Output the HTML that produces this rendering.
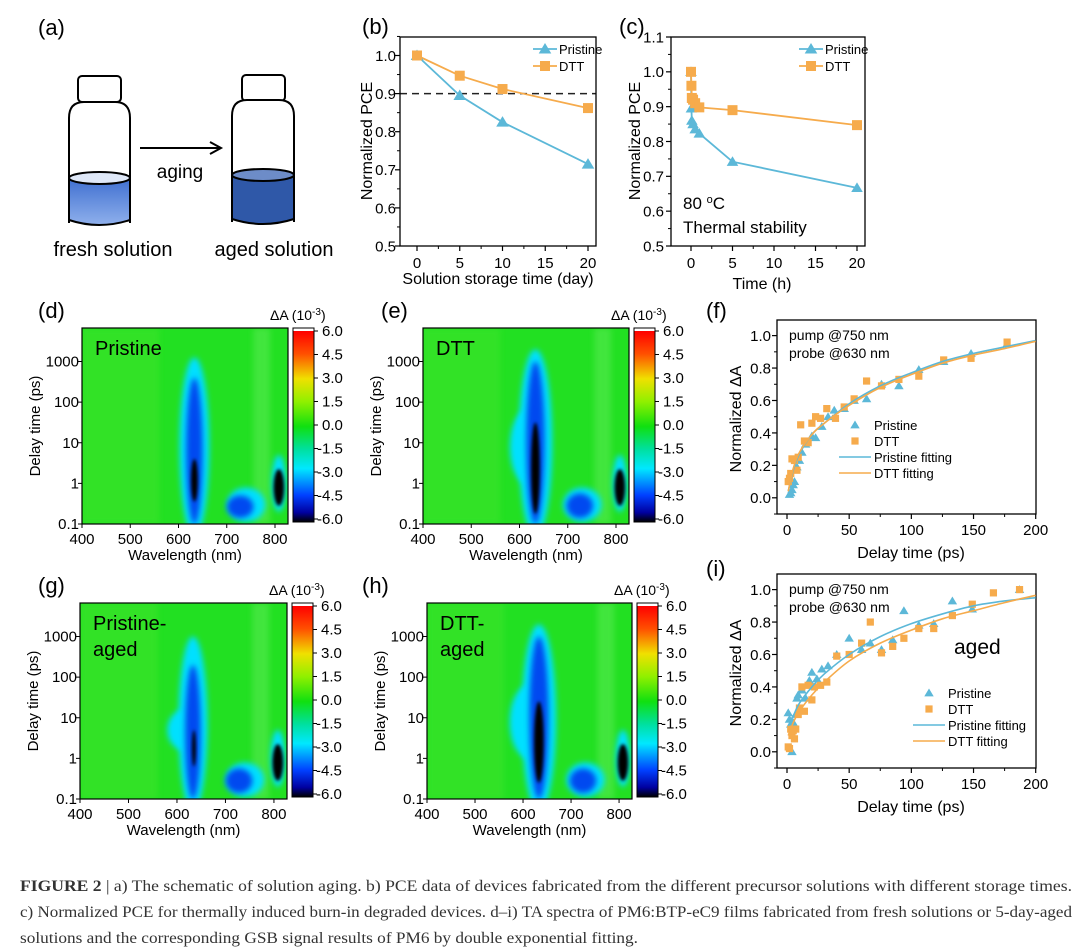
<!DOCTYPE html>
<html><head><meta charset="utf-8">
<style>
html,body{margin:0;padding:0;background:#fff;}
svg{display:block;font-family:"Liberation Sans",sans-serif;}
</style></head>
<body>
<svg id="fig" width="1080" height="947" viewBox="0 0 1080 947" xmlns="http://www.w3.org/2000/svg">
<defs>
<filter id="blur" x="-50%" y="-50%" width="200%" height="200%"><feGaussianBlur stdDeviation="3"/></filter>
<filter id="blur2" x="-50%" y="-50%" width="200%" height="200%"><feGaussianBlur stdDeviation="1.6"/></filter>
<linearGradient id="cbgrad" x1="0" y1="0" x2="0" y2="1">
<stop offset="0" stop-color="#ff0000"/><stop offset="0.12" stop-color="#ff5000"/><stop offset="0.25" stop-color="#f0e000"/><stop offset="0.37" stop-color="#90f000"/><stop offset="0.5" stop-color="#10e010"/><stop offset="0.62" stop-color="#00e0a0"/><stop offset="0.72" stop-color="#00e8ff"/><stop offset="0.86" stop-color="#0040ff"/><stop offset="0.95" stop-color="#0000a0"/><stop offset="1" stop-color="#000000"/>
</linearGradient>
<linearGradient id="liqFresh" x1="0" y1="0" x2="0" y2="1"><stop offset="0" stop-color="#3f6fd0"/><stop offset="1" stop-color="#8fb0ec"/></linearGradient>
</defs>

<g>
<text x="38" y="35" font-size="22">(a)</text>
<g stroke="#000" stroke-width="2">
<rect x="78" y="76" width="43" height="26" rx="4" fill="#fff"/>
<path d="M69 223 L69 118 Q69 102 84 102 L115 102 Q130 102 130 118 L130 223" fill="#fff"/>
<path d="M69 178 L69 220 Q99 230 130 220 L130 178 Z" fill="url(#liqFresh)"/>
<ellipse cx="99.5" cy="178" rx="30.5" ry="6" fill="#dfe8f8"/>
</g>
<g stroke="#000" stroke-width="2">
<rect x="242" y="75" width="43" height="26" rx="4" fill="#fff"/>
<path d="M232 222 L232 116 Q232 100 247 100 L279 100 Q294 100 294 116 L294 222" fill="#fff"/>
<path d="M232 175 L232 219 Q263 229 294 219 L294 175 Z" fill="#2f58a8"/>
<ellipse cx="263" cy="175" rx="31" ry="6" fill="#6d8cc8"/>
</g>
<g><line x1="140" y1="148" x2="220" y2="148" stroke="#000" stroke-width="2"/><path d="M210 142 L221 148 L210 154" fill="none" stroke="#000" stroke-width="2"/></g>
<text x="180" y="178" font-size="19" text-anchor="middle">aging</text>
<text x="113" y="256" font-size="20" text-anchor="middle">fresh solution</text>
<text x="274" y="256" font-size="20" text-anchor="middle">aged solution</text>
</g>

<text x="362" y="34" font-size="22">(b)</text>
<text x="619" y="34" font-size="22">(c)</text>
<text x="38" y="318" font-size="22">(d)</text>
<text x="381" y="318" font-size="22">(e)</text>
<text x="706" y="318" font-size="22">(f)</text>
<text x="38" y="593" font-size="22">(g)</text>
<text x="362" y="593" font-size="22">(h)</text>
<text x="706" y="576" font-size="22">(i)</text>

<g id="charts"></g>

<g font-family="'Liberation Serif',serif" font-size="16" fill="#333">
<text x="20" y="891" textLength="1052" lengthAdjust="spacingAndGlyphs"><tspan font-weight="bold">FIGURE 2</tspan>   |   a) The schematic of solution aging. b) PCE data of devices fabricated from the different precursor solutions with different storage times.</text>
<text x="20" y="917" textLength="1052" lengthAdjust="spacingAndGlyphs">c) Normalized PCE for thermally induced burn-in degraded devices. d–i) TA spectra of PM6:BTP-eC9 films fabricated from fresh solutions or 5-day-aged</text>
<text x="20" y="943" textLength="618" lengthAdjust="spacingAndGlyphs">solutions and the corresponding GSB signal results of PM6 by double exponential fitting.</text>
</g>
</svg>

<script>
const bDays = [0, 5, 10, 20];
const bPristine = [1.0, 0.895, 0.825, 0.715];
const bDTT = [1.0, 0.947, 0.912, 0.862];
const bYTicks = [0.5, 0.6, 0.7, 0.8, 0.9, 1.0];
const bXTicks = [0, 5, 10, 15, 20];
const cTimeP = [0, 0.05, 0.1, 0.25, 0.5, 1, 5, 20];
const cPristine = [1.0, 0.895, 0.86, 0.85, 0.835, 0.823, 0.742, 0.667];
const cTimeD = [0, 0.05, 0.1, 0.25, 0.5, 1, 5, 20];
const cDTT = [1.0, 0.96, 0.925, 0.92, 0.91, 0.898, 0.89, 0.847];
const cYTicks = [0.5, 0.6, 0.7, 0.8, 0.9, 1.0, 1.1];
const cXTicks = [0, 5, 10, 15, 20];
const fPT = [2,3,4,5,6,8,10,12,15,20,23,28,33,38,46,54,64,76,90,106,126,148,177];
const fPV = [0.02,0.03,0.05,0.08,0.1,0.19,0.23,0.28,0.33,0.38,0.37,0.44,0.5,0.54,0.55,0.6,0.61,0.7,0.69,0.79,0.84,0.89,0.95];
const fDT = [1,2,3,4,6,8,9,11,14,17,20,23,27,32,39,46,54,64,76,90,106,126,148,177];
const fDV = [0.1,0.12,0.15,0.24,0.23,0.17,0.25,0.45,0.35,0.34,0.46,0.5,0.49,0.55,0.49,0.56,0.61,0.72,0.69,0.73,0.75,0.85,0.86,0.96];
const fitT = [1,5,10,20,30,50,75,100,125,150,175,200];
const fPFit = [0.04,0.17,0.27,0.39,0.46,0.58,0.69,0.77,0.84,0.89,0.93,0.97];
const fDFit = [0.04,0.18,0.28,0.39,0.46,0.57,0.68,0.76,0.83,0.88,0.92,0.965];
const iPT = [1,2,3,4,5,6,7,8,9,12,15,18,20,24,28,33,40,50,60,67,76,85,94,106,118,133,149,187];
const iPV = [0.24,0.2,0.17,0.0,0.18,0.16,0.23,0.33,0.35,0.38,0.33,0.44,0.49,0.45,0.51,0.53,0.6,0.7,0.63,0.67,0.63,0.69,0.87,0.78,0.79,0.93,0.88,1.0];
const iDT = [1,2,3,4,5,6,7,9,10,12,14,17,20,22,27,32,40,50,60,67,76,85,94,106,118,133,149,166,187];
const iDV = [0.03,0.02,0.14,0.1,0.13,0.08,0.14,0.23,0.27,0.4,0.25,0.41,0.32,0.4,0.41,0.43,0.59,0.6,0.67,0.8,0.61,0.65,0.7,0.76,0.76,0.84,0.91,0.98,1.0];
const iPFit = [0.16,0.22,0.3,0.4,0.48,0.6,0.71,0.79,0.85,0.9,0.93,0.95];
const iDFit = [0.1,0.18,0.25,0.35,0.43,0.56,0.67,0.75,0.82,0.87,0.92,0.965];
const fYTicks = [0.0, 0.2, 0.4, 0.6, 0.8, 1.0];
const fXTicks = [0, 50, 100, 150, 200];
const hmWlTicks = [400, 500, 600, 700, 800];
const hmTTicks = [0.1, 1, 10, 100, 1000];
const cbTicks = ["6.0","4.5","3.0","1.5","0.0","-1.5","-3.0","-4.5","-6.0"];
const blobsD = [[633,-1.3,3.1,62,1],[740,-0.95,-0.1,80,1],[808,-0.7,0.7,30,1],[633,-1.0,2.6,34,2],[728,-0.85,-0.3,55,2],[808,-0.55,0.35,22,3],[633,-0.45,0.6,14,3]];
const blobsE = [[633,-1.3,3.3,70,1],[615,0,1.8,70,1],[730,-0.95,-0.1,80,1],[808,-0.7,0.7,30,1],[633,-1.0,3.0,38,2],[725,-0.85,-0.25,55,2],[808,-0.55,0.35,22,3],[633,-0.75,1.5,18,3]];
const blobsG = [[633,-1.3,3.0,60,1],[615,0.2,1.2,70,1],[740,-0.95,-0.1,80,1],[808,-0.7,0.7,30,1],[633,-1.0,2.3,32,2],[728,-0.85,-0.25,55,2],[808,-0.55,0.35,22,3],[635,-0.2,0.7,8,3]];
const blobsH = [[633,-1.3,3.3,72,1],[612,0,1.8,80,1],[730,-0.95,-0.1,80,1],[808,-0.7,0.7,30,1],[633,-1.0,3.0,40,2],[725,-0.85,-0.25,55,2],[808,-0.55,0.35,22,3],[633,-0.6,1.4,20,3]];

const NS = "http://www.w3.org/2000/svg";
const root = document.getElementById('charts');
function mk(tag, attrs, parent) {
  const e = document.createElementNS(NS, tag);
  for (const k in attrs) e.setAttribute(k, attrs[k]);
  (parent || root).appendChild(e);
  return e;
}
function txt(s, attrs, parent) { const e = mk('text', attrs, parent); e.textContent = s; return e; }
function lin(d0, d1, r0, r1) { return v => r0 + (v - d0) * (r1 - r0) / (d1 - d0); }
const BLUE = "#5cb8d8", ORANGE = "#f6ab4c";

function triangle(g, x, y, s, col) {
  return mk('path', {d:`M${x} ${y-s} L${x+s*1.05} ${y+s*0.75} L${x-s*1.05} ${y+s*0.75} Z`, fill:col}, g);
}
function square(g, x, y, s, col) {
  return mk('rect', {x:x-s, y:y-s, width:2*s, height:2*s, fill:col}, g);
}

function frameAxes(g, L, R, T, B, xs, ys, xTicks, yTicks, xFmt, yFmt, xMinor, yMinor, fs, xLabY, yLabX) {
  mk('rect', {x:L, y:T, width:R-L, height:B-T, fill:'none', stroke:'#000', 'stroke-width':1.3}, g);
  xTicks.forEach(v => {
    const x = xs(v);
    mk('line', {x1:x, y1:B, x2:x, y2:B+5, stroke:'#000', 'stroke-width':1.2}, g);
    const t = txt(xFmt(v), {x:x, y:xLabY, 'font-size':fs, 'text-anchor':'middle'}, g);
    
    
  });
  xMinor.forEach(v => mk('line', {x1:xs(v), y1:B, x2:xs(v), y2:B+3, stroke:'#000', 'stroke-width':1}, g));
  yTicks.forEach(v => {
    const y = ys(v);
    mk('line', {x1:L-5, y1:y, x2:L, y2:y, stroke:'#000', 'stroke-width':1.2}, g);
    const t = txt(yFmt(v), {x:yLabX, y:y+fs*0.36, 'font-size':fs, 'text-anchor':'end'}, g);
    
    
  });
  yMinor.forEach(v => mk('line', {x1:L-3, y1:ys(v), x2:L, y2:ys(v), stroke:'#000', 'stroke-width':1}, g));
}
function ytitle(g, s, x, y, fs) {
  const t = txt(s, {x:x, y:y, 'font-size':fs, 'text-anchor':'middle', transform:`rotate(-90 ${x} ${y})`}, g);
  
  
}
function xtitle(g, s, x, y, fs) {
  const t = txt(s, {x:x, y:y, 'font-size':fs, 'text-anchor':'middle'}, g);
  
  
}
function polyline(g, xs, ys, X, Y, col, w) {
  const pts = X.map((v, i) => xs(v) + ',' + ys(Y[i])).join(' ');
  return mk('polyline', {points:pts, fill:'none', stroke:col, 'stroke-width':w||1.8}, g);
}
function smoothPath(g, xs, ys, X, Y, col) {
  const P = X.map((v,i)=>[xs(v), ys(Y[i])]);
  let d = 'M' + P[0][0] + ' ' + P[0][1];
  for (let i = 0; i < P.length - 1; i++) {
    const p0 = P[i-1]||P[i], p1 = P[i], p2 = P[i+1], p3 = P[i+2]||P[i+1];
    const c1 = [p1[0]+(p2[0]-p0[0])/6, p1[1]+(p2[1]-p0[1])/6];
    const c2 = [p2[0]-(p3[0]-p1[0])/6, p2[1]-(p3[1]-p1[1])/6];
    d += ` C${c1[0]} ${c1[1]} ${c2[0]} ${c2[1]} ${p2[0]} ${p2[1]}`;
  }
  return mk('path', {d:d, fill:'none', stroke:col, 'stroke-width':1.6}, g);
}

(function(){
  const g = mk('g', {});
  
  
  const L=400,R=596,T=37,B=246;
  const xs = lin(0, 20, 417, 588), ys = lin(0.5, 1.0, 246, 55.5);
  const th = mk('line', {x1:L, y1:ys(0.9), x2:R, y2:ys(0.9), stroke:'#222', 'stroke-width':1.5, 'stroke-dasharray':'7,5'}, g);
  
  
  frameAxes(g,L,R,T,B,xs,ys,bXTicks,bYTicks,v=>String(v),v=>v.toFixed(1),[2.5,7.5,12.5,17.5],[0.55,0.65,0.75,0.85,0.95,1.05],15,268,396);
  const lp = polyline(g, xs, ys, bDays, bPristine, BLUE);
  
  
  const ld = polyline(g, xs, ys, bDays, bDTT, ORANGE);
  
  
  bDays.forEach((d,i)=>{
    const m = triangle(g, xs(d), ys(bPristine[i]), 6, BLUE);
    
    
  });
  bDays.forEach((d,i)=>{
    const m = square(g, xs(d), ys(bDTT[i]), 5, ORANGE);
    
    
  });
  ytitle(g, 'Normalized PCE', 372, 141, 16);
  xtitle(g, 'Solution storage time (day)', 498, 284, 16);
  const lg = mk('g', {}, g);
  
  
  mk('line',{x1:533,y1:49,x2:557,y2:49,stroke:BLUE,'stroke-width':1.8},lg); triangle(lg,545,49,6,BLUE);
  txt('Pristine',{x:559,y:54,'font-size':13},lg);
  mk('line',{x1:533,y1:66,x2:557,y2:66,stroke:ORANGE,'stroke-width':1.8},lg); square(lg,545,66,5,ORANGE);
  txt('DTT',{x:559,y:71,'font-size':13},lg);
})();

(function(){
  const g = mk('g', {});
  
  
  const L=671,R=865,T=37,B=246;
  const xs = lin(0, 20, 691, 857), ys = lin(0.5, 1.1, 246, 37);
  frameAxes(g,L,R,T,B,xs,ys,cXTicks,cYTicks,v=>String(v),v=>v.toFixed(1),[2.5,7.5,12.5,17.5],[0.55,0.65,0.75,0.85,0.95,1.05],15,268,664);
  const lp = polyline(g, xs, ys, cTimeP, cPristine, BLUE);
  
  
  const ld = polyline(g, xs, ys, cTimeD, cDTT, ORANGE);
  
  
  cTimeP.forEach((d,i)=>{
    const m = triangle(g, xs(d), ys(cPristine[i]), 5.5, BLUE);
    
    
  });
  cTimeD.forEach((d,i)=>{
    const m = square(g, xs(d), ys(cDTT[i]), 5, ORANGE);
    
    
  });
  ytitle(g, 'Normalized PCE', 640, 141, 16);
  xtitle(g, 'Time (h)', 762, 289, 16);
  const a1 = txt('80 ', {x:683,y:209,'font-size':17}, g);
  const sup = mk('tspan',{dy:-6,'font-size':11},a1); sup.textContent='o';
  const sup2 = mk('tspan',{dy:6},a1); sup2.textContent='C';
  
  
  const a2 = txt('Thermal stability', {x:683,y:233,'font-size':17}, g);
  
  
  const lg = mk('g', {}, g);
  
  
  mk('line',{x1:799,y1:49,x2:823,y2:49,stroke:BLUE,'stroke-width':1.8},lg); triangle(lg,811,49,6,BLUE);
  txt('Pristine',{x:825,y:54,'font-size':13},lg);
  mk('line',{x1:799,y1:66,x2:823,y2:66,stroke:ORANGE,'stroke-width':1.8},lg); square(lg,811,66,5,ORANGE);
  txt('DTT',{x:825,y:71,'font-size':13},lg);
})();

function kinetics(name, T, B, PT, PV, DT, DV, PF, DF, legY, legX, aged) {
  const g = mk('g', {});
  
  
  const L=777,R=1036;
  const y1 = T + (B-T)*0.0805;
  const y0 = B - (B-T)*0.0835;
  const xs = lin(0, 200, 787, 1035.7), ys = lin(0, 1, y0, y1);
  frameAxes(g,L,R,T,B,xs,ys,fXTicks,fYTicks,v=>String(v),v=>v.toFixed(1),[25,75,125,175],[-0.1,0.1,0.3,0.5,0.7,0.9],15,B+21,771);
  PT.forEach((t,i)=>{
    const m = triangle(g, xs(t), ys(PV[i]), 4.5, BLUE);
    
    
  });
  DT.forEach((t,i)=>{
    const m = square(g, xs(t), ys(DV[i]), 3.6, ORANGE);
    
    
  });
  const fp = smoothPath(g, xs, ys, fitT, PF, BLUE);
  
  
  const fd = smoothPath(g, xs, ys, fitT, DF, ORANGE);
  
  
  ytitle(g, 'Normalized ΔA', 741, (T+B)/2+2, 16);
  xtitle(g, 'Delay time (ps)', 911, B+44, 16);
  const p1 = txt('pump @750 nm', {x:789,y:T+20,'font-size':14}, g);
  
  
  const p2 = txt('probe @630 nm', {x:789,y:T+38,'font-size':14}, g);
  
  
  if (aged) {
    const a = txt('aged', {x:954,y:T+80,'font-size':21}, g);
    
    
  }
  const lg = mk('g', {}, g);
  
  
  triangle(lg, legX+16, legY, 4.5, BLUE);
  txt('Pristine',{x:legX+35,y:legY+5,'font-size':13},lg);
  square(lg, legX+16, legY+16, 3.6, ORANGE);
  txt('DTT',{x:legX+35,y:legY+21,'font-size':13},lg);
  mk('line',{x1:legX,y1:legY+32,x2:legX+32,y2:legY+32,stroke:BLUE,'stroke-width':1.6},lg);
  txt('Pristine fitting',{x:legX+35,y:legY+37,'font-size':13},lg);
  mk('line',{x1:legX,y1:legY+48,x2:legX+32,y2:legY+48,stroke:ORANGE,'stroke-width':1.6},lg);
  txt('DTT fitting',{x:legX+35,y:legY+53,'font-size':13},lg);
}
kinetics('panel-f-chart', 320, 514, fPT, fPV, fDT, fDV, fPFit, fDFit, 425, 839, false);
kinetics('panel-i-chart', 574, 768, iPT, iPV, iDT, iDV, iPFit, iDFit, 693, 913, true);

const levelCol = ['#10e010', '#00e0ff', '#0048f0', '#000000'];
function heatmap(name, L, R, T, B, blobs, cbL, lines) {
  const g = mk('g', {});
  
  
  const xs = lin(400, 800, L, L + (R-L)*193/206);
  const ys = lin(-1, 3, B, B - 162.5);
  const cid = name + '-clip';
  const cp = mk('clipPath', {id:cid}, g);
  mk('rect', {x:L, y:T, width:R-L, height:B-T}, cp);
  const pg = mk('g', {'clip-path':`url(#${cid})`}, g);
  mk('rect', {x:L, y:T, width:R-L, height:B-T, fill:'#22e022'}, pg);
  mk('rect', {x:L, y:T, width:xs(560)-L, height:B-T, fill:'#3ce42c', opacity:0.6, filter:'url(#blur)'}, pg);
  mk('rect', {x:xs(755), y:T, width:xs(790)-xs(755), height:B-T, fill:'#50e84a', opacity:0.7, filter:'url(#blur)'}, pg);
  blobs.forEach(b => {
    const cx = xs(b[0]), rx = (xs(b[0]+b[3]/2) - cx);
    const yt = ys(b[2]), yb = ys(b[1]);
    const e = mk('ellipse', {cx:cx, cy:(yt+yb)/2, rx:rx, ry:(yb-yt)/2, fill:levelCol[b[4]], filter: b[4]===3 ? 'url(#blur2)' : 'url(#blur)'}, pg);
    
    
  });
  mk('rect', {x:L, y:T, width:R-L, height:B-T, fill:'none', stroke:'#000', 'stroke-width':1.2}, g);
  hmWlTicks.forEach(v => {
    mk('line', {x1:xs(v), y1:B, x2:xs(v), y2:B+4, stroke:'#000'}, g);
    const t = txt(String(v), {x:xs(v), y:B+20, 'font-size':15, 'text-anchor':'middle'}, g);
    
    
  });
  hmTTicks.forEach(v => {
    const y = ys(Math.log10(v));
    mk('line', {x1:L-4, y1:y, x2:L, y2:y, stroke:'#000'}, g);
    const t = txt(String(v), {x:L-3, y:y+5, 'font-size':15, 'text-anchor':'end'}, g);
    
    
  });
  ytitle(g, 'Delay time (ps)', L-42, (T+B)/2, 15);
  xtitle(g, 'Wavelength (nm)', (L+R)/2, B+36, 15);
  lines.forEach((s,i) => {
    const t = txt(s, {x:L+13, y:T+27+i*26, 'font-size':20}, g);
    
    
  });
  const cb = mk('g', {}, g);
  
  
  const cT = T, cB = B - 2, cW = 21;
  mk('rect', {x:cbL, y:cT+3, width:cW, height:cB-cT-3, fill:'url(#cbgrad)'}, cb);
  mk('rect', {x:cbL, y:cT, width:cW, height:cB-cT, fill:'none', stroke:'#000', 'stroke-width':1}, cb);
  cbTicks.forEach((s,i) => {
    const y = cT + 3 + i*(cB-cT-6)/8;
    mk('line', {x1:cbL+cW, y1:y, x2:cbL+cW+4, y2:y, stroke:'#000'}, cb);
    const t = txt(s, {x:cbL+cW+(s[0]==='-'?3:8), y:y+5, 'font-size':15}, cb);
    
    
  });
  const ct = txt('ΔA (10', {x:cbL-23, y:T-8, 'font-size':14}, cb);
  const s1 = mk('tspan', {dy:-5, 'font-size':10}, ct); s1.textContent='-3';
  const s2 = mk('tspan', {dy:5}, ct); s2.textContent=')';
  
  
}
heatmap('panel-d-heatmap', 82, 288, 328, 524, blobsD, 293, ['Pristine']);
heatmap('panel-e-heatmap', 423, 629, 328, 524, blobsE, 634, ['DTT']);
heatmap('panel-g-heatmap', 80, 287, 603, 799, blobsG, 292, ['Pristine-', 'aged']);
heatmap('panel-h-heatmap', 427, 632, 603, 799, blobsH, 637, ['DTT-', 'aged']);
</script>
</body></html>
